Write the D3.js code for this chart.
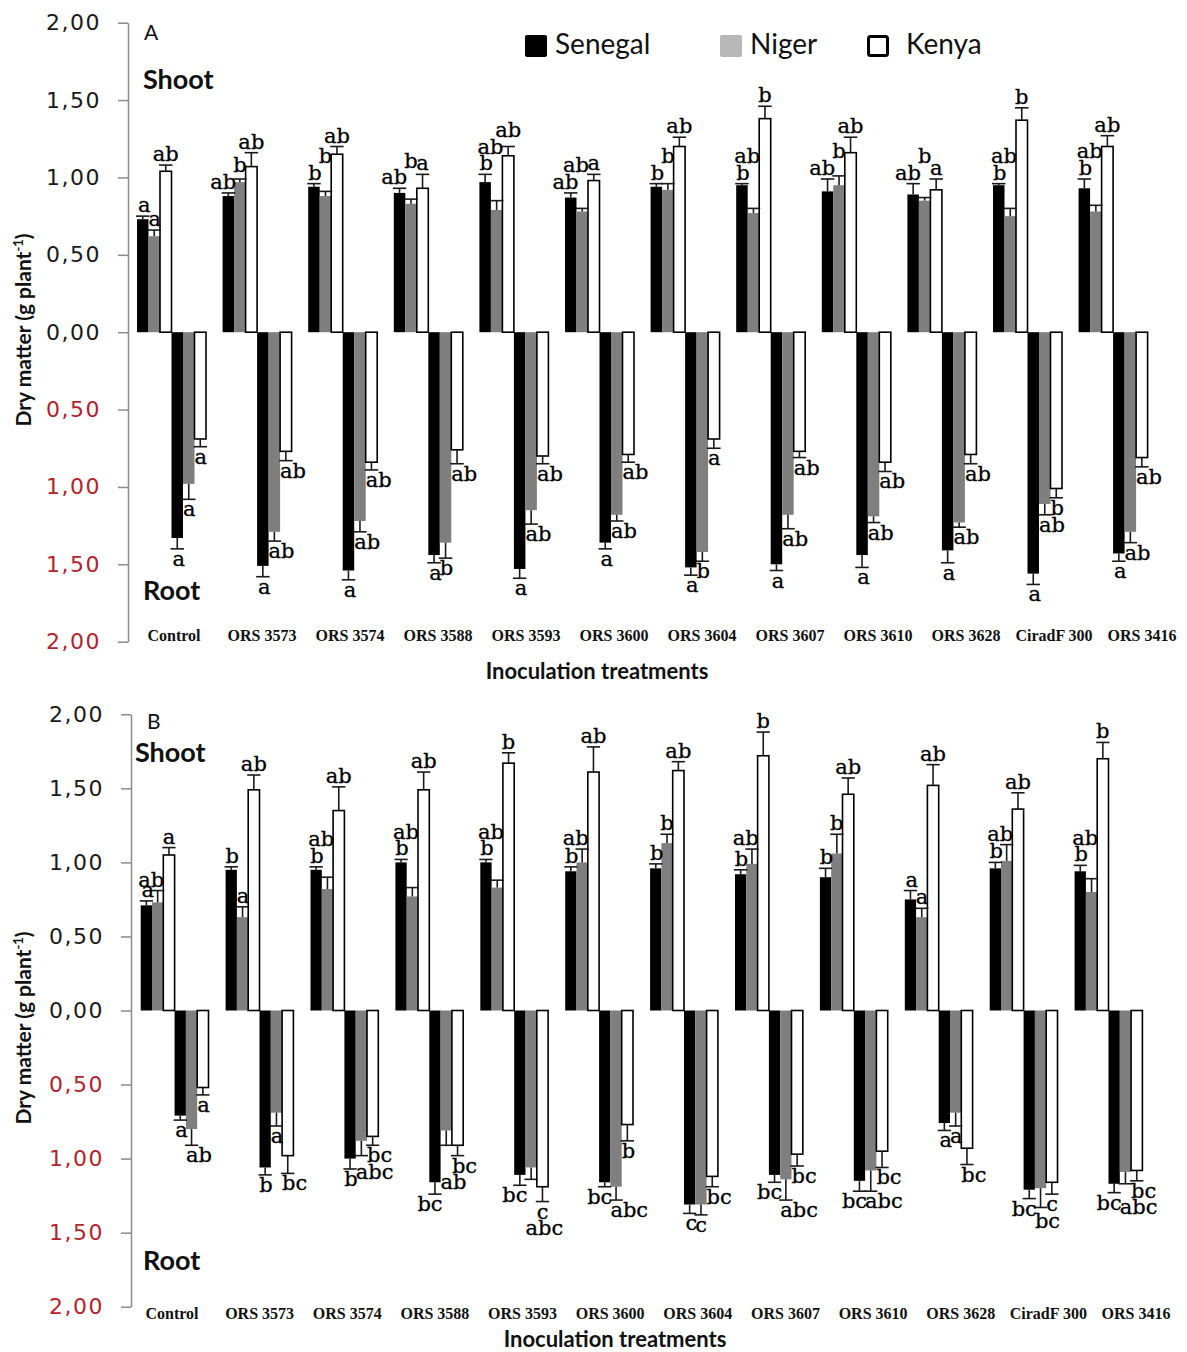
<!DOCTYPE html>
<html>
<head>
<meta charset="utf-8">
<script src="https://cdn.jsdelivr.net/npm/d3@7"></script>
<style>
  body { margin: 0; background: #fff; }
  svg { display: block; }
</style>
</head>
<body>
<svg id="chart" width="1187" height="1352"></svg>
<script>
// Inoculation treatments and plant provenances
const categories = ["Control", "ORS 3573", "ORS 3574", "ORS 3588", "ORS 3593", "ORS 3600",
                    "ORS 3604", "ORS 3607", "ORS 3610", "ORS 3628", "CiradF 300", "ORS 3416"];
const provenances = ["Senegal", "Niger", "Kenya"];
const yTicks = [-2, -1.5, -1, -0.5, 0, 0.5, 1, 1.5, 2];

// Panel A — each row: [Senegal, Niger, Kenya], dry matter in g plant-1
const shootA = [[0.73,0.62,1.04],[0.88,0.97,1.07],[0.94,0.88,1.15],[0.90,0.83,0.93],[0.97,0.79,1.14],[0.87,0.78,0.98],
                [0.94,0.92,1.20],[0.95,0.77,1.38],[0.91,0.95,1.16],[0.89,0.85,0.92],[0.95,0.75,1.37],[0.93,0.78,1.20]];
const shootA_se = [[0.02,0.04,0.04],[0.02,0.02,0.09],[0.02,0.03,0.05],[0.03,0.03,0.09],[0.05,0.06,0.06],[0.03,0.02,0.04],
                   [0.02,0.04,0.06],[0.01,0.03,0.08],[0.08,0.06,0.10],[0.07,0.02,0.07],[0.01,0.05,0.08],[0.06,0.04,0.07]];
const shootA_sig = [["a","a","ab"],["ab","b","ab"],["b","b","ab"],["ab","b","a"],["b","ab","ab"],["ab","ab","a"],
                    ["b","b","ab"],["b","ab","b"],["ab","b","ab"],["ab","b","a"],["b","ab","b"],["b","ab","ab"]];
const rootA = [[1.33,0.98,0.69],[1.51,1.29,0.77],[1.54,1.22,0.84],[1.44,1.36,0.76],[1.53,1.15,0.80],[1.36,1.18,0.79],
               [1.52,1.42,0.69],[1.50,1.18,0.77],[1.44,1.19,0.84],[1.41,1.23,0.79],[1.56,1.11,1.01],[1.43,1.29,0.81]];
const rootA_se = [[0.07,0.10,0.05],[0.07,0.06,0.06],[0.06,0.07,0.05],[0.05,0.10,0.09],[0.06,0.09,0.05],[0.04,0.04,0.05],
                  [0.05,0.06,0.06],[0.04,0.09,0.04],[0.08,0.04,0.06],[0.08,0.03,0.06],[0.07,0.07,0.06],[0.05,0.07,0.06]];
const rootA_sig = [["a","a","a"],["a","ab","ab"],["a","ab","ab"],["a","b","ab"],["a","ab","ab"],["a","ab","ab"],
                   ["a","b","a"],["a","ab","ab"],["a","ab","ab"],["a","ab","ab"],["a","ab","b"],["a","ab","ab"]];

// Panel B — each row: [Senegal, Niger, Kenya], dry matter in g plant-1
const shootB = [[0.71,0.73,1.05],[0.95,0.63,1.49],[0.95,0.82,1.35],[1.00,0.77,1.49],[1.00,0.83,1.67],[0.94,1.00,1.61],
                [0.96,1.13,1.62],[0.92,0.99,1.72],[0.90,1.06,1.46],[0.75,0.63,1.52],[0.96,1.01,1.36],[0.94,0.80,1.70]];
const shootB_se = [[0.03,0.08,0.05],[0.02,0.07,0.10],[0.02,0.08,0.16],[0.02,0.06,0.12],[0.02,0.05,0.07],[0.03,0.09,0.17],
                   [0.03,0.06,0.06],[0.03,0.10,0.16],[0.06,0.13,0.11],[0.06,0.06,0.14],[0.04,0.11,0.11],[0.04,0.09,0.11]];
const shootB_sig = [["a","ab","a"],["b","a","ab"],["b","ab","ab"],["b","ab","ab"],["b","ab","b"],["b","ab","ab"],
                    ["b","b","ab"],["b","ab","b"],["b","b","ab"],["a","a","ab"],["b","ab","ab"],["b","ab","b"]];
const rootB = [[0.71,0.80,0.52],[1.06,0.69,0.98],[1.00,0.88,0.85],[1.16,0.81,0.91],[1.11,1.06,1.19],[1.16,1.19,0.77],
               [1.31,1.31,1.12],[1.11,1.14,0.97],[1.15,1.08,0.95],[0.76,0.69,0.93],[1.21,1.20,1.16],[1.17,1.09,1.08]];
const rootB_se = [[0.03,0.11,0.05],[0.05,0.09,0.12],[0.07,0.10,0.06],[0.08,0.10,0.07],[0.07,0.08,0.10],[0.03,0.09,0.11],
                  [0.06,0.07,0.07],[0.05,0.14,0.08],[0.07,0.14,0.11],[0.05,0.09,0.11],[0.06,0.13,0.08],[0.06,0.08,0.07]];
const rootB_sig = [["a","ab","a"],["b","a","bc"],["b","abc","bc"],["bc","ab","bc"],["bc","abc","c"],["bc","abc","b"],
                   ["c","c","bc"],["bc","abc","bc"],["bc","abc","bc"],["a","a","bc"],["bc","bc","c"],["bc","abc","bc"]];

const fills = ["#000000", "#7f7f7f", "#ffffff"];
const legendFills = ["#000000", "#b8b8b8", "#ffffff"];
const fmt = d => d3.format(".2f")(Math.abs(d)).replace(".", ",");
const sigSize = 21;

// Where each letter hangs relative to its bar: [anchor, offset from bar left in bar widths, px]
const shootAnchor = [["end", 1, 2], ["end", 1, 1], ["middle", 0.5, 0]];
const rootAnchor = [["end", 1, 2], ["start", 0, 0], ["start", 0, 0]];
// Order in which letters of one treatment claim their place
const shootOrder = [0, 1, 2];
const rootOrder = [0, 2, 1];

const svg = d3.select("#chart");

// Glyph box of a significance letter (no descenders in a/b/c)
function letterBox(node) {
  const by = +node.getAttribute("y");
  const w = node.getComputedTextLength();
  const anchor = node.getAttribute("text-anchor");
  const ax = +node.getAttribute("x");
  const x = anchor === "end" ? ax - w : anchor === "start" ? ax : ax - w / 2;
  const tall = /b/.test(node.textContent);
  const top = by - (tall ? 0.74 : 0.53) * sigSize;
  return { x, y: top, w, h: by - top };
}

// Lift (shoot) or drop (root) the letters of one treatment clear of
// neighbouring bars and of letters already placed
function stackLetters(nodes, obstacles, dir) {
  const placed = [];
  nodes.forEach(n => {
    const own = d3.select(n).datum().series;
    let b = letterBox(n);
    for (let k = 0; k < 12; k++) {
      let moved = false;
      const blockers = placed.map(p => ({ ...p, tol: 2.5 }))
        .concat(obstacles.filter(o => o.series !== own).map(o => ({ ...o, tol: 3.5 })));
      for (const p of blockers) {
        const xo = Math.min(b.x + b.w, p.x + p.w) - Math.max(b.x, p.x);
        const yo = Math.min(b.y + b.h, p.y + p.h) - Math.max(b.y, p.y);
        if (xo > p.tol && yo > 1) {
          const cur = +n.getAttribute("y");
          const shift = dir > 0 ? -(b.y + b.h - p.y) - 1 : (p.y + p.h - b.y) + 1;
          n.setAttribute("y", cur + shift);
          b = letterBox(n);
          moved = true;
        }
      }
      if (!moved) break;
    }
    placed.push(b);
  });
}

function drawPanel(cfg) {
  const g = svg.append("g");

  const y = d3.scaleLinear().domain([-2, 2]).range([cfg.yBottom, cfg.yTop]);

  const pi = 1 - 6 * cfg.barW / cfg.step;
  const x0 = d3.scaleBand().domain(categories)
    .range([cfg.firstBar, cfg.firstBar + cfg.step * (categories.length - pi)])
    .paddingInner(pi).paddingOuter(0);
  const x1 = d3.scaleBand().domain(d3.range(6)).range([0, x0.bandwidth()]);
  const xLab = d3.scalePoint().domain(categories).range(cfg.labelRange);

  // Vertical axis, root side labelled in red
  const axis = d3.axisLeft(y).tickValues(yTicks).tickSize(10).tickSizeOuter(0)
    .tickPadding(17).tickFormat(fmt);
  const ax = g.append("g").attr("transform", `translate(${cfg.axisX},0)`).call(axis);
  ax.select(".domain").attr("stroke", "#8c8c8c").attr("stroke-width", 1.5);
  ax.selectAll(".tick line").attr("stroke", "#8c8c8c").attr("stroke-width", 1.5);
  ax.selectAll(".tick text")
    .attr("font-family", "DejaVu Sans, Verdana, sans-serif")
    .attr("font-size", 22).attr("letter-spacing", 1.5)
    .attr("fill", d => d < 0 ? "#b3242c" : "#1a1a1a");

  // Bar records: shoot drawn upwards, root downwards
  const recs = [];
  categories.forEach((c, i) => {
    provenances.forEach((p, j) => {
      recs.push({ cat: c, slot: j, series: j, v: cfg.shoot[i][j], se: cfg.shootSe[i][j], sig: cfg.shootSig[i][j], dir: 1 });
      recs.push({ cat: c, slot: j + 3, series: j, v: cfg.root[i][j], se: cfg.rootSe[i][j], sig: cfg.rootSig[i][j], dir: -1 });
    });
  });
  recs.sort((a, b) => a.series - b.series);

  const bx = d => x0(d.cat) + x1(d.slot);
  const bw = x1.bandwidth();

  g.append("g").selectAll("rect").data(recs).join("rect")
    .attr("x", bx)
    .attr("y", d => d.dir > 0 ? y(d.v) : y(0))
    .attr("width", bw)
    .attr("height", d => Math.abs(y(d.v * d.dir) - y(0)))
    .attr("fill", d => fills[d.series])
    .attr("stroke", d => d.series === 2 ? "#000" : "none")
    .attr("stroke-width", 1.6);

  // Standard-error whiskers
  const eb = g.append("g").attr("stroke", "#1a1a1a").attr("stroke-width", 1.6);
  eb.selectAll("line.w").data(recs).join("line").attr("class", "w")
    .attr("x1", d => bx(d) + bw / 2).attr("x2", d => bx(d) + bw / 2)
    .attr("y1", d => y(d.v * d.dir)).attr("y2", d => y((d.v + d.se) * d.dir));
  eb.selectAll("line.c").data(recs).join("line").attr("class", "c")
    .attr("x1", d => bx(d) - 1).attr("x2", d => bx(d) + bw + 1)
    .attr("y1", d => y((d.v + d.se) * d.dir)).attr("y2", d => y((d.v + d.se) * d.dir));

  // Significance letters
  const anc = d => (d.dir > 0 ? shootAnchor : rootAnchor)[d.series];
  const sig = g.append("g").selectAll("text").data(recs).join("text")
    .attr("x", d => bx(d) + anc(d)[1] * bw + anc(d)[2])
    .attr("y", d => d.dir > 0 ? y(d.v + d.se) - 4 : y(-(d.v + d.se)) + 17)
    .attr("text-anchor", d => anc(d)[0])
    .attr("font-family", "DejaVu Serif, serif").attr("font-size", sigSize)
    .attr("fill", "#000").attr("stroke", "#000").attr("stroke-width", 0.3)
    .text(d => d.sig);

  categories.forEach(c => {
    [1, -1].forEach(dir => {
      const group = recs.filter(d => d.cat === c && d.dir === dir);
      const obstacles = group.map(d => {
        const a = y(0), e = y((d.v + d.se) * dir) + (dir > 0 ? -2 : 2);
        return { series: d.series, x: bx(d) - 1, w: bw + 2, y: Math.min(a, e), h: Math.abs(a - e) };
      });
      const order = dir > 0 ? shootOrder : rootOrder;
      const nodes = sig.filter(d => d.cat === c && d.dir === dir).nodes()
        .sort((a, b) => order.indexOf(d3.select(a).datum().series) - order.indexOf(d3.select(b).datum().series));
      stackLetters(nodes, obstacles, dir);
    });
  });

  // Treatment labels
  g.append("g").selectAll("text").data(categories).join("text")
    .attr("x", d => xLab(d)).attr("y", cfg.catY)
    .attr("text-anchor", "middle")
    .attr("font-family", "Liberation Serif, Times New Roman, serif")
    .attr("font-weight", "bold").attr("font-size", 16).attr("fill", "#111")
    .text(d => d);

  // Panel letter, Shoot / Root tags
  g.append("text").attr("x", cfg.axisX + 16).attr("y", cfg.tagY)
    .attr("font-family", "Lato, sans-serif").attr("font-size", 21).attr("fill", "#111").text(cfg.tag);
  g.append("text").attr("x", cfg.shootX).attr("y", cfg.shootY)
    .attr("font-family", "Lato, sans-serif").attr("font-weight", "bold").attr("font-size", 27)
    .attr("fill", "#111").text("Shoot");
  g.append("text").attr("x", 143).attr("y", cfg.rootY)
    .attr("font-family", "Lato, sans-serif").attr("font-weight", "bold").attr("font-size", 27)
    .attr("fill", "#111").text("Root");

  // Axis titles
  const yt = g.append("text")
    .attr("transform", `translate(31,${cfg.yTitleC}) rotate(-90)`)
    .attr("text-anchor", "middle")
    .attr("font-family", "Lato, sans-serif").attr("font-weight", "bold").attr("font-size", 21)
    .attr("fill", "#111");
  yt.append("tspan").text("Dry matter (g plant");
  yt.append("tspan").attr("dy", -8).attr("font-size", 13).text("-1");
  yt.append("tspan").attr("dy", 8).text(")");

  g.append("text").attr("x", cfg.xTitleC).attr("y", cfg.xTitleY)
    .attr("text-anchor", "middle")
    .attr("font-family", "Lato, sans-serif").attr("font-weight", "bold").attr("font-size", 22)
    .attr("fill", "#111").text("Inoculation treatments");
}

drawPanel({
  yTop: 22.7, yBottom: 641.7, axisX: 128, firstBar: 137, step: 85.6, barW: 11.5,
  labelRange: [174, 1142], catY: 641,
  shoot: shootA, shootSe: shootA_se, shootSig: shootA_sig,
  root: rootA, rootSe: rootA_se, rootSig: rootA_sig,
  tag: "A", tagY: 40, shootX: 143, shootY: 89, rootY: 600,
  yTitleC: 330, xTitleC: 597, xTitleY: 679
});

drawPanel({
  yTop: 714.3, yBottom: 1306.7, axisX: 131, firstBar: 140.7, step: 84.9, barW: 11.3,
  labelRange: [172, 1136], catY: 1319,
  shoot: shootB, shootSe: shootB_se, shootSig: shootB_sig,
  root: rootB, rootSe: rootB_se, rootSig: rootB_sig,
  tag: "B", tagY: 729, shootX: 135, shootY: 762, rootY: 1270,
  yTitleC: 1028, xTitleC: 615, xTitleY: 1347
});

// Legend
const legX = [525, 720, 867];
const legend = svg.append("g").selectAll("g").data(provenances).join("g")
  .attr("transform", (d, i) => `translate(${legX[i]},35)`);
legend.append("rect")
  .attr("x", (d, i) => i === 2 ? 1.5 : 0).attr("y", (d, i) => i === 2 ? 1.5 : 0)
  .attr("width", (d, i) => i === 2 ? 19 : 22).attr("height", (d, i) => i === 2 ? 19 : 22)
  .attr("rx", 2)
  .attr("fill", (d, i) => legendFills[i])
  .attr("stroke", (d, i) => i === 2 ? "#000" : "none").attr("stroke-width", 3);
legend.append("text").attr("x", (d, i) => i === 2 ? 39 : 30).attr("y", 19)
  .attr("font-family", "Lato, sans-serif").attr("font-size", 28).attr("fill", "#111")
  .text(d => d);
</script>
</body>
</html>
